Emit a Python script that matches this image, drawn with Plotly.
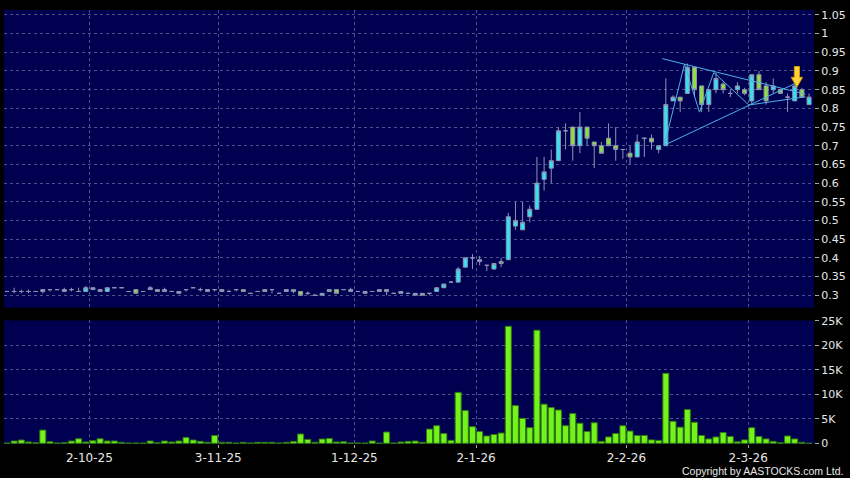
import plotly.graph_objects as go

# ---------------- data ----------------
opens = [0.31,0.31,0.31,0.31,0.31,0.31,0.315,0.315,0.31,0.315,
         0.31,0.31,0.315,0.315,0.31,0.32,0.32,0.31,0.315,0.31,
         0.315,0.31,0.31,0.31,0.305,0.315,0.32,0.315,0.31,0.315,
         0.31,0.31,0.315,0.315,0.305,0.31,0.315,0.315,0.305,0.31,
         0.31,0.31,0.305,0.30,0.30,0.31,0.315,0.315,0.31,0.31,
         0.305,0.31,0.31,0.31,0.305,0.305,0.305,0.30,0.305,0.305,
         0.31,0.32,0.335,0.335,0.375,0.40,0.39,0.38,0.37,0.39,
         0.395,0.485,0.475,0.51,0.53,0.61,0.64,0.66,0.74,0.75,
         0.70,0.75,0.71,0.70,0.72,0.70,0.69,0.68,0.67,0.72,
         0.72,0.69,0.70,0.82,0.83,0.84,0.91,0.86,0.81,0.85,
         0.865,0.84,0.85,0.85,0.82,0.89,0.86,0.85,0.85,0.83,
         0.82,0.85,0.81]
highs = [0.31,0.32,0.315,0.315,0.31,0.315,0.315,0.315,0.32,0.32,
         0.32,0.325,0.32,0.315,0.32,0.32,0.32,0.31,0.315,0.31,
         0.325,0.315,0.32,0.31,0.31,0.315,0.32,0.32,0.315,0.315,
         0.315,0.315,0.315,0.315,0.305,0.31,0.315,0.315,0.305,0.315,
         0.315,0.31,0.31,0.30,0.305,0.315,0.315,0.315,0.32,0.31,
         0.31,0.31,0.315,0.315,0.305,0.31,0.305,0.305,0.305,0.305,
         0.32,0.33,0.335,0.375,0.40,0.41,0.405,0.38,0.385,0.40,
         0.52,0.55,0.55,0.54,0.67,0.67,0.69,0.75,0.76,0.75,
         0.79,0.75,0.71,0.71,0.76,0.75,0.69,0.70,0.73,0.72,
         0.73,0.70,0.88,0.835,0.83,0.92,0.91,0.86,0.85,0.895,
         0.87,0.85,0.87,0.855,0.89,0.90,0.87,0.88,0.85,0.84,
         0.865,0.855,0.84]
lows = [0.31,0.305,0.305,0.305,0.31,0.305,0.31,0.315,0.31,0.31,
        0.31,0.31,0.315,0.31,0.31,0.32,0.32,0.31,0.305,0.31,
        0.315,0.31,0.31,0.31,0.305,0.31,0.32,0.31,0.31,0.31,
        0.31,0.31,0.31,0.31,0.305,0.31,0.31,0.305,0.305,0.31,
        0.305,0.30,0.30,0.30,0.30,0.31,0.305,0.315,0.31,0.31,
        0.305,0.31,0.31,0.30,0.305,0.305,0.305,0.30,0.30,0.30,
        0.31,0.32,0.335,0.335,0.375,0.37,0.38,0.365,0.37,0.375,
        0.395,0.475,0.475,0.495,0.53,0.58,0.60,0.66,0.69,0.66,
        0.68,0.70,0.64,0.68,0.70,0.66,0.665,0.65,0.67,0.67,
        0.69,0.68,0.70,0.82,0.79,0.84,0.83,0.79,0.79,0.84,
        0.84,0.83,0.84,0.835,0.81,0.85,0.81,0.84,0.84,0.79,
        0.82,0.83,0.81]
closes = [0.31,0.31,0.31,0.31,0.31,0.315,0.315,0.315,0.315,0.315,
          0.31,0.32,0.32,0.31,0.32,0.32,0.32,0.31,0.305,0.31,
          0.32,0.315,0.315,0.31,0.31,0.315,0.32,0.315,0.315,0.315,
          0.315,0.31,0.315,0.31,0.305,0.31,0.31,0.315,0.305,0.315,
          0.315,0.30,0.305,0.30,0.305,0.315,0.305,0.315,0.315,0.31,
          0.31,0.31,0.315,0.315,0.305,0.31,0.305,0.305,0.30,0.305,
          0.32,0.33,0.335,0.37,0.40,0.40,0.395,0.38,0.385,0.385,
          0.51,0.50,0.495,0.53,0.60,0.63,0.66,0.74,0.74,0.70,
          0.75,0.72,0.70,0.68,0.70,0.69,0.69,0.67,0.71,0.72,
          0.71,0.70,0.81,0.83,0.82,0.91,0.85,0.81,0.85,0.88,
          0.85,0.84,0.86,0.84,0.89,0.85,0.82,0.86,0.84,0.83,
          0.86,0.83,0.83]
volumes = [50,470,670,270,100,2700,330,50,130,470,
           930,270,530,930,470,470,200,50,50,50,
           470,100,470,270,470,1200,670,400,200,1600,
           200,200,50,200,50,200,200,200,50,200,
           400,1900,800,200,870,1000,270,330,50,50,
           50,470,50,2300,50,270,400,470,200,2900,
           3600,2000,600,10400,6700,3400,2400,1500,1800,2100,
           23900,7700,5100,3200,23100,8000,7300,6800,3600,6100,
           4100,2400,4200,400,1300,2000,3600,2500,1600,1600,
           700,600,14300,4500,3300,6900,4300,1600,900,1300,
           2200,1400,300,700,3200,1400,900,400,100,1500,
           900,200,0]

month_labels = ["2-10-25", "3-11-25", "1-12-25", "2-1-26", "2-2-26", "2-3-26"]
month_pos = [11.5, 29.5, 48.5, 65.5, 86.5, 103.5]

price_ticks = [round(0.30 + 0.05 * k, 2) for k in range(16)]
price_labels = ["0.3","0.35","0.4","0.45","0.5","0.55","0.6","0.65","0.7",
                "0.75","0.8","0.85","0.9","0.95","1","1.05"]
vol_ticks = [0, 5000, 10000, 15000, 20000, 25000]
vol_labels = ["0", "5K", "10K", "15K", "20K", "25K"]

# drawn trend lines (bar index, price)
upper_line_x = [91.5, 111.5]
upper_line_y = [0.933, 0.838]
lower_line_x = [91.8, 110.1]
lower_line_y = [0.7015, 0.867]
zigzag_x = [91.8, 94.6, 96.7, 98.7, 103.6, 111.5]
zigzag_y = [0.7015, 0.918, 0.79, 0.896, 0.809, 0.831]

arrow_x = 110.3
arrow_tip = 0.857
arrow_top = 0.912

# ---------------- figure ----------------
x = list(range(len(opens)))
BG = "#000050"
GRID = "#50508a"
TXT = "#e8e8e8"
FONT = "DejaVu Sans"

fig = go.Figure()
fig.add_trace(go.Candlestick(
    x=x, open=opens, high=highs, low=lows, close=closes,
    increasing=dict(line=dict(color="#8e94b0", width=1), fillcolor="#35e2f2"),
    decreasing=dict(line=dict(color="#8e94b0", width=1), fillcolor="#8fe03c"),
    xaxis="x", yaxis="y", showlegend=False, hoverinfo="skip"))

line_style = dict(color="#4fb0e8", width=1)
for lx, ly in [(upper_line_x, upper_line_y), (lower_line_x, lower_line_y), (zigzag_x, zigzag_y)]:
    fig.add_trace(go.Scatter(x=lx, y=ly, mode="lines", line=line_style,
                             xaxis="x", yaxis="y", showlegend=False, hoverinfo="skip"))

fig.add_trace(go.Bar(
    x=x, y=volumes, marker=dict(color="#74f21c", line=dict(color="#2f7a10", width=1)),
    xaxis="x2", yaxis="y2", showlegend=False, hoverinfo="skip"))

# yellow arrow
hw, sw, hh = 0.8, 0.36, 0.026
path = (f"M {arrow_x - sw},{arrow_top} L {arrow_x + sw},{arrow_top} "
        f"L {arrow_x + sw},{arrow_tip + hh} L {arrow_x + hw},{arrow_tip + hh} "
        f"L {arrow_x},{arrow_tip} L {arrow_x - hw},{arrow_tip + hh} "
        f"L {arrow_x - sw},{arrow_tip + hh} Z")
fig.add_shape(type="path", path=path, xref="x", yref="y",
              fillcolor="#ffd43a", line=dict(color="#d89a00", width=1))

xrange = [-0.42, 112.69]
common_x = dict(range=xrange, tickmode="array", tickvals=month_pos, showgrid=True,
                gridcolor=GRID, griddash="3px,3px", gridwidth=1, zeroline=False,
                showline=False)
fig.update_layout(
    width=850, height=478,
    margin=dict(l=4, r=35, t=5, b=34),
    paper_bgcolor="#000000", plot_bgcolor=BG,
    font=dict(family=FONT, color=TXT, size=11),
    bargap=0.16,
    boxgap=0.2,
    xaxis=dict(**common_x, anchor="y", showticklabels=False, ticks="",
               rangeslider=dict(visible=False)),
    xaxis2=dict(**common_x, anchor="y2", matches="x", ticktext=month_labels,
                showticklabels=True, ticks="outside", ticklen=3, tickcolor="#aaaaaa",
                tickfont=dict(size=12, color=TXT, family=FONT)),
    yaxis=dict(domain=[0.3144, 1.0], range=[0.267, 1.0632], side="right",
               tickmode="array", tickvals=price_ticks, ticktext=price_labels,
               showgrid=True, gridcolor=GRID, griddash="3px,3px", zeroline=False,
               ticks="outside", ticklen=4, tickcolor="#aaaaaa",
               tickfont=dict(size=11, color=TXT, family=FONT), anchor="x"),
    yaxis2=dict(domain=[0.0, 0.2847], range=[-140, 25100], side="right",
                tickmode="array", tickvals=vol_ticks, ticktext=vol_labels,
                showgrid=True, gridcolor=GRID, griddash="3px,3px", zeroline=False,
                ticks="outside", ticklen=4, tickcolor="#aaaaaa",
                tickfont=dict(size=11, color=TXT, family=FONT), anchor="x2"),
    annotations=[dict(text="Copyright by AASTOCKS.com Ltd.", xref="paper", yref="paper",
                      x=1.0, y=0, xanchor="right", yanchor="middle", yshift=-27, xshift=31,
                      showarrow=False,
                      font=dict(size=10.5, color=TXT, family="Liberation Sans"))],
)

fig.write_html("out.html", config={"displayModeBar": False},
               post_script="document.body.style.margin='0';document.body.style.background='#000';")
